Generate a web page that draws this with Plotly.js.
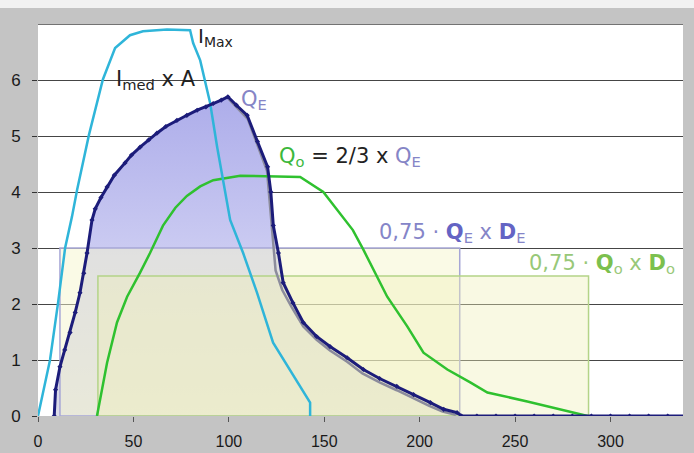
<!DOCTYPE html>
<html>
<head>
<meta charset="utf-8">
<script src="https://cdn.plot.ly/plotly-3.0.1.min.js"></script>
<style>html,body{margin:0;padding:0;background:#fff;}#chart{width:694px;height:453px;}</style>
</head>
<body>
<div id="chart"></div>
<script>
// ---- data ----
// Q_E (dark navy, with markers)
const qeX = [8.5, 9.2, 11.5, 14, 16.8, 19.5, 22, 24, 25.7, 28.3, 30, 33, 36.2, 40, 45.6, 49, 53.5, 58, 62.3, 67, 72.8, 78, 83.4, 88, 91.8, 96, 99.5, 104, 109.6, 115, 120.3, 122, 123.3, 126, 128.5, 133.6, 139, 146, 153, 162, 170.5, 179, 188, 196.8, 205.6, 212.6, 219.6, 222, 230, 240, 250, 260, 270, 280, 290, 300, 310, 320, 330, 340];
const qeY = [0, 0.47, 0.88, 1.18, 1.49, 1.85, 2.2, 2.55, 2.91, 3.5, 3.7, 3.9, 4.09, 4.3, 4.52, 4.66, 4.8, 4.93, 5.05, 5.17, 5.28, 5.37, 5.46, 5.52, 5.58, 5.64, 5.7, 5.55, 5.37, 4.9, 4.45, 4.0, 3.4, 2.91, 2.38, 2.02, 1.67, 1.42, 1.24, 1.04, 0.83, 0.67, 0.53, 0.38, 0.24, 0.12, 0.06, 0, 0, 0, 0, 0, 0, 0, 0, 0, 0, 0, 0, 0];
// grey companion curve of Q_E
const qgX = [100, 110, 120, 122.3, 124.5, 128, 133, 139, 146, 153, 162, 170, 179, 188, 197, 205, 212, 219];
const qgY = [5.66, 5.3, 4.38, 3.5, 2.6, 2.25, 1.94, 1.6, 1.36, 1.17, 0.97, 0.76, 0.6, 0.46, 0.31, 0.18, 0.08, 0.02];
// I max (cyan)
const iX = [0, 6.3, 10.5, 14.2, 17.8, 20.5, 26.7, 34, 40.4, 48.2, 55, 67.6, 79.7, 81.3, 85, 90.2, 93.9, 98, 100.7, 107.5, 114.8, 123.2, 132, 142.6, 142.6];
const iY = [0, 1.0, 2.02, 3.0, 3.56, 4.04, 5.02, 6.01, 6.57, 6.8, 6.87, 6.9, 6.89, 6.66, 6.35, 5.59, 4.8, 4.04, 3.5, 2.91, 2.2, 1.31, 0.83, 0.24, 0];
// Q_o = 2/3 Q_E (green)
const qoX = [30.9, 36.2, 41.4, 46.7, 53.5, 58.7, 65.5, 72, 78, 85, 91.8, 106, 137.4, 149.5, 165, 170.5, 183, 193.5, 202, 214.5, 226.5, 235.5, 256.4, 273.7, 288];
const qoY = [0, 0.95, 1.67, 2.13, 2.56, 2.91, 3.4, 3.72, 3.93, 4.1, 4.21, 4.29, 4.27, 4.0, 3.32, 2.97, 2.13, 1.6, 1.13, 0.83, 0.6, 0.42, 0.26, 0.12, 0];
// boxes 0,75·Q x D
const boxEX = [11.5, 221];   // x from / to
const boxEY = 3;             // height
const boxOX = [31.4, 288.5];
const boxOY = 2.5;
const xTicks = [0, 50, 100, 150, 200, 250, 300];
const yTicks = [0, 1, 2, 3, 4, 5, 6];

function boxPath(bx, by) {
  return {x: [bx[0], bx[0], bx[1], bx[1], bx[0]], y: [0, by, by, 0, 0]};
}
const bE = boxPath(boxEX, boxEY);
const bO = boxPath(boxOX, boxOY);

const traces = [
  {x: qeX, y: qeY, mode: 'none', fill: 'tozeroy',
   fillgradient: {type: 'vertical', colorscale: [[0, '#dcdce6'], [0.5, '#ccccf2'], [1, '#adadea']]},
   hoverinfo: 'skip', showlegend: false},
  {x: bE.x, y: bE.y, mode: 'lines', fill: 'toself', fillcolor: 'rgba(246,246,205,0.5)',
   line: {color: '#a6a6d6', width: 1.5}, showlegend: false},
  {x: bO.x, y: bO.y, mode: 'lines', fill: 'toself', fillcolor: 'rgba(240,240,185,0.4)',
   line: {color: '#b4d488', width: 1.5}, showlegend: false},
  {x: qgX, y: qgY, mode: 'lines', line: {color: '#8c8c9c', width: 2.5}, showlegend: false},
  {x: qoX, y: qoY, mode: 'lines', line: {color: '#2fc12f', width: 2.5}, showlegend: false},
  {x: iX, y: iY, mode: 'lines', line: {color: '#2fb5d9', width: 2.5}, showlegend: false},
  {x: qeX, y: qeY, mode: 'lines+markers', line: {color: '#1c1c7a', width: 3},
   marker: {symbol: 'diamond', size: 4, color: '#1c1c7a'}, showlegend: false}
];

const F = 'DejaVu Sans, Verdana, sans-serif';
const annotations = [
  {x: 82.9, y: 6.76, text: 'I<sub>Max</sub>', font: {family: F, size: 20, color: '#222'}},
  {x: 40.0, y: 6.0, text: 'I<sub>med</sub> x A', font: {family: F, size: 21, color: '#222'}},
  {x: 105.5, y: 5.64, text: 'Q<sub>E</sub>', font: {family: F, size: 21, color: '#8585c6'}},
  {x: 125.5, y: 4.62, text: '<span style="color:#3cb83c">Q<sub>o</sub></span> = 2/3 x <span style="color:#8585c6">Q<sub>E</sub></span>', font: {family: F, size: 21, color: '#222'}},
  {x: 177.5, y: 3.27, text: '0,75 · <b style="color:#6464c4">Q</b><sub>E</sub> x <b style="color:#6464c4">D</b><sub>E</sub>', font: {family: F, size: 21, color: '#8585c8'}},
  {x: 256.0, y: 2.72, text: '0,75 · <b style="color:#7cc04e">Q</b><sub>o</sub> x <b style="color:#7cc04e">D</b><sub>o</sub>', font: {family: F, size: 21, color: '#98c878'}}
].map(a => Object.assign({xref: 'x', yref: 'y', xanchor: 'left', yanchor: 'middle', showarrow: false}, a));

const layout = {
  width: 694, height: 453,
  margin: {l: 38, r: 11, t: 24, b: 37},
  paper_bgcolor: '#c4c4c4',
  plot_bgcolor: '#ffffff',
  showlegend: false,
  xaxis: {range: [0, 338], tickvals: xTicks, ticktext: xTicks.map(String), showgrid: false, zeroline: false,
          ticks: 'outside', ticklen: 5, tickcolor: '#555', ticklabelstandoff: 6,
          tickfont: {family: 'Liberation Sans, Arial, sans-serif', size: 16, color: '#1a1a1a'}},
  yaxis: {range: [0, 7], tickvals: yTicks, ticktext: yTicks.map(String), showgrid: true, gridcolor: '#454545', gridwidth: 1,
          zeroline: false, ticks: 'outside', ticklen: 5, tickcolor: '#333', ticklabelstandoff: 8,
          tickfont: {family: 'Liberation Sans, Arial, sans-serif', size: 17, color: '#1a1a1a'}},
  shapes: [
    {type: 'line', xref: 'paper', yref: 'y', x0: 0, x1: 1, y0: 7, y1: 7, line: {color: '#454545', width: 1.5}},
    {type: 'rect', xref: 'paper', yref: 'paper', x0: -0.06, x1: 1.02, y0: 1.0408, y1: 1.07, fillcolor: '#f2f2f2', line: {width: 0}}
  ],
  annotations: annotations
};

Plotly.newPlot('chart', traces, layout, {displayModeBar: false, staticPlot: true});
</script>
</body>
</html>
